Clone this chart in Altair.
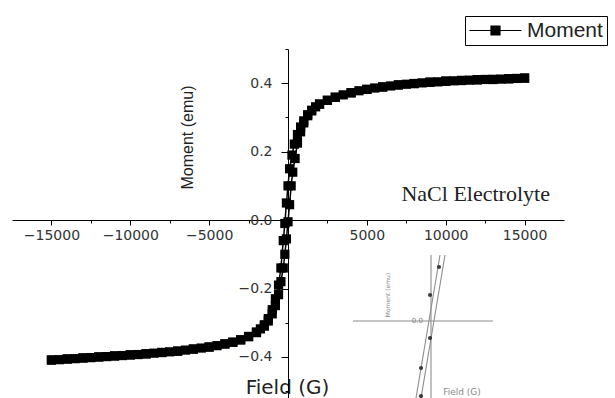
import altair as alt
import pandas as pd

# ---- M(H) loop: descending branch (+15 kG -> -15 kG) ----
down_field = [15000, 14500, 14000, 13500, 13000, 12500, 12000, 11500, 11000, 10500,
              10000, 9500, 9000, 8500, 8000, 7500, 7000, 6500, 6000, 5500,
              5000, 4500, 4000, 3500, 3000, 2500, 2000, 1750, 1500, 1250,
              1000, 800, 600, 400, 250, 100, 0, -100, -200, -300,
              -450, -600, -800, -1000, -1250, -1500, -1750, -2000, -2500, -3000,
              -3500, -4000, -4500, -5000, -5500, -6000, -6500, -7000, -7500, -8000,
              -8500, -9000, -9500, -10000, -10500, -11000, -11500, -12000, -12500, -13000,
              -13500, -14000, -14500, -15000]
down_moment = [0.415, 0.414, 0.413, 0.412, 0.411, 0.411, 0.410, 0.409, 0.408, 0.407,
               0.406, 0.404, 0.403, 0.401, 0.399, 0.397, 0.395, 0.392, 0.389, 0.386,
               0.382, 0.378, 0.372, 0.366, 0.359, 0.350, 0.339, 0.331, 0.321, 0.308,
               0.290, 0.272, 0.250, 0.222, 0.190, 0.150, 0.100, 0.050, -0.010, -0.060,
               -0.140, -0.190, -0.230, -0.262, -0.288, -0.306, -0.318, -0.327, -0.340, -0.350,
               -0.357, -0.362, -0.367, -0.371, -0.374, -0.377, -0.380, -0.383, -0.385, -0.387,
               -0.389, -0.391, -0.393, -0.394, -0.396, -0.397, -0.399, -0.400, -0.402, -0.403,
               -0.405, -0.406, -0.408, -0.409]

# ---- ascending branch (-15 kG -> +15 kG) ----
up_field = [-15000, -14000, -13000, -12000, -11000, -10000, -9000, -8000, -7000, -6000,
            -5000, -4000, -3500, -3000, -2500, -2000, -1500, -1250, -1000, -800,
            -600, -450, -300, -200, -100, 0, 100, 200, 300, 450,
            600, 800, 1000, 1250, 1500, 2000, 2500, 3000, 4000, 5000,
            6000, 7000, 8000, 9000, 10000, 11000, 12000, 13000, 14000, 15000]
up_moment = [-0.409, -0.406, -0.403, -0.400, -0.397, -0.394, -0.391, -0.387, -0.383, -0.377,
             -0.371, -0.362, -0.357, -0.350, -0.341, -0.329, -0.310, -0.295, -0.274, -0.250,
             -0.218, -0.180, -0.140, -0.100, -0.055, -0.005, 0.045, 0.100, 0.140, 0.180,
             0.225, 0.258, 0.284, 0.305, 0.319, 0.339, 0.350, 0.359, 0.372, 0.382,
             0.389, 0.395, 0.399, 0.403, 0.406, 0.408, 0.410, 0.411, 0.413, 0.415]

series_name = "Moment"
sample_label = "NaCl Electrolyte"
label_field = [11900]
label_moment = [0.076]

x_tick_values = [-15000, -12500, -10000, -7500, -5000, -2500, 0,
                 2500, 5000, 7500, 10000, 12500, 15000]
y_tick_values = [-0.5, -0.4, -0.3, -0.2, -0.1, 0.0, 0.1, 0.2, 0.3, 0.4, 0.5]

# ---- close-up inset around the origin (own units) ----
inset_hline_x = [-78, 62]
inset_hline_y = [0, 0]
inset_vline_x = [0, 0]
inset_vline_y = [-77, 66]
inset_a_x = [-15, 9]
inset_a_y = [-77, 66]
inset_b_x = [-10, 14]
inset_b_y = [-77, 66]
inset_dot_x = [8, -1, -1, -10, -10]
inset_dot_y = [54, 26, -17, -47, -75]
inset_text = ["0.0", "Field (G)"]
inset_text_x = [-8, 31]
inset_text_y = [0, -71]
inset_text_align = ["right", "center"]
inset_ytitle = ["Moment (emu)"]
inset_ytitle_x = [-43]
inset_ytitle_y = [26]

# ---- tables ----
loop = pd.concat([
    pd.DataFrame({"field": down_field, "moment": down_moment, "branch": "down",
                  "step": range(len(down_field))}),
    pd.DataFrame({"field": up_field, "moment": up_moment, "branch": "up",
                  "step": range(len(down_field), len(down_field) + len(up_field))}),
], ignore_index=True)
loop["series"] = series_name

label_df = pd.DataFrame({"field": label_field, "moment": label_moment, "text": [sample_label]})

# ---- main axes crossing at the origin ----
x_axis = alt.Axis(
    orient="bottom", offset=-178, values=x_tick_values, format="d",
    labelExpr="datum.value % 5000 == 0 && datum.value != 0 ? datum.label : ''",
    tickSize={"condition": {"test": "datum.value % 5000 != 0", "value": 3}, "value": 5},
    tickColor="black", domainColor="black", domainWidth=1, tickWidth=1,
    labelFont="DejaVu Sans", labelFontSize=14, labelColor="#333", labelPadding=3,
    labelFlush=False, labelOverlap=False, grid=False,
    title="Field (G)", titleFont="DejaVu Sans", titleFontSize=20, titleFontWeight="normal",
    titleColor="#222", titleX=275, titleY=167, titleBaseline="middle", titleAlign="center",
)
y_axis = alt.Axis(
    orient="left", offset=-276, values=y_tick_values, format=".1f",
    labelExpr="abs(round(datum.value * 10)) % 2 == 0 && abs(datum.value) < 0.45 ? datum.label : ''",
    tickSize={"condition": {"test": "abs(round(datum.value * 10)) % 2 == 1", "value": 3}, "value": 7},
    tickColor="black", domainColor="black", domainWidth=1, tickWidth=1,
    labelFont="DejaVu Sans", labelFontSize=14, labelColor="#333", labelPadding=9,
    labelOverlap=False, grid=False,
    title="Moment (emu)", titleFont="Liberation Sans", titleFontSize=16, titleFontWeight="normal",
    titleColor="#222", titleX=-101, titleY=88, titleAngle=270,
    titleBaseline="middle", titleAlign="center",
)

x_enc = alt.X("field:Q", scale=alt.Scale(domain=[-17500, 17500], nice=False, zero=False), axis=x_axis)
y_enc = alt.Y("moment:Q", scale=alt.Scale(domain=[-0.52, 0.5], nice=False, zero=False), axis=y_axis)

line = alt.Chart(loop).mark_line(color="black", strokeWidth=1.5).encode(
    x=x_enc, y=y_enc, detail="branch:N", order="step:Q"
)
points = alt.Chart(loop).mark_point(shape="square", filled=True, size=85, opacity=1).encode(
    x=x_enc, y=y_enc,
    color=alt.Color("series:N", scale=alt.Scale(range=["black"]), legend=alt.Legend(
        title=None, orient="none", legendX=453, legendY=-33,
        symbolType="M-5.2,0H5.2M-0.9,-0.9H0.9V0.9H-0.9Z", symbolSize=100,
        symbolStrokeWidth=1.2, symbolStrokeColor="black", symbolFillColor="black",
        symbolOffset=16, labelOffset=21,
        labelFont="Liberation Sans", labelFontSize=21, labelColor="#222",
        strokeColor="black", fillColor="white", padding=4,
    )),
)
label = alt.Chart(label_df).mark_text(
    font="Liberation Serif", fontSize=22, color="#222", align="center", baseline="middle"
).encode(x=x_enc, y=y_enc, text="text:N")

main = alt.layer(line, points, label)

# ---- inset layers ----
ix = alt.X("ix:Q", scale=alt.Scale(domain=[-419, 133], nice=False, zero=False), axis=None)
iy = alt.Y("iy:Q", scale=alt.Scale(domain=[-77, 272], nice=False, zero=False), axis=None)

inset_lines = pd.concat([
    pd.DataFrame({"ix": inset_hline_x, "iy": inset_hline_y, "part": "h"}),
    pd.DataFrame({"ix": inset_vline_x, "iy": inset_vline_y, "part": "v"}),
    pd.DataFrame({"ix": inset_a_x, "iy": inset_a_y, "part": "a"}),
    pd.DataFrame({"ix": inset_b_x, "iy": inset_b_y, "part": "b"}),
], ignore_index=True)
inset_dots = pd.DataFrame({"ix": inset_dot_x, "iy": inset_dot_y})
inset_texts = pd.DataFrame({"ix": inset_text_x, "iy": inset_text_y, "t": inset_text,
                            "al": inset_text_align})
inset_yt = pd.DataFrame({"ix": inset_ytitle_x, "iy": inset_ytitle_y, "t": inset_ytitle})

i_lines = alt.Chart(inset_lines).mark_line(color="#8c8c8c", strokeWidth=1.1).encode(
    x=ix, y=iy, detail="part:N"
)
i_dots = alt.Chart(inset_dots).mark_point(shape="circle", filled=True, size=18,
                                          color="#2a2a2a", opacity=0.9).encode(x=ix, y=iy)
i_text_r = alt.Chart(inset_texts[inset_texts.al == "right"]).mark_text(
    font="DejaVu Sans", fontSize=7, color="#888", align="right", baseline="middle"
).encode(x=ix, y=iy, text="t:N")
i_text_c = alt.Chart(inset_texts[inset_texts.al == "center"]).mark_text(
    font="DejaVu Sans", fontSize=9, color="#888", align="center", baseline="middle"
).encode(x=ix, y=iy, text="t:N")
i_ytitle = alt.Chart(inset_yt).mark_text(
    font="DejaVu Sans", fontSize=6, color="#888", align="center", baseline="middle", angle=270
).encode(x=ix, y=iy, text="t:N")

inset = alt.layer(i_lines, i_dots, i_text_r, i_text_c, i_ytitle)

chart = alt.layer(main, inset).resolve_scale(
    x="independent", y="independent"
).properties(
    width=552, height=349,
    padding={"left": 12, "top": 49, "right": 51, "bottom": 0},
    autosize=alt.AutoSizeParams(type="none"),
    background="white",
).configure_view(stroke=None)

chart.save("out.html", embed_options={"renderer": "svg", "actions": False})
